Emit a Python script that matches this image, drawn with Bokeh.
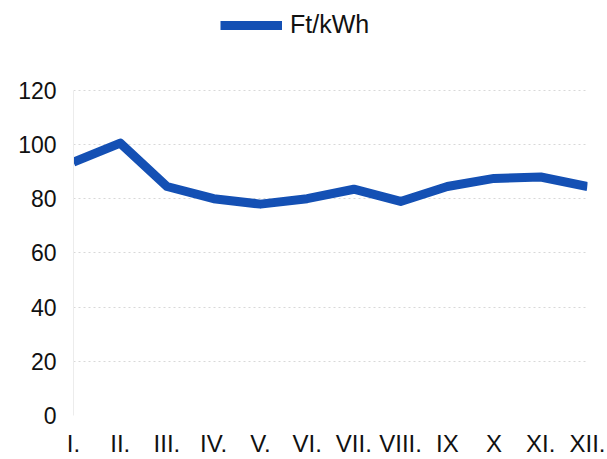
from bokeh.plotting import figure
from bokeh.models import Range1d, FixedTicker, Legend, LegendItem, ColumnDataSource
from bokeh.embed import file_html
from bokeh.resources import INLINE

# Monthly electricity price
months = ["I.", "II.", "III.", "IV.", "V.", "VI.", "VII.", "VIII.", "IX", "X", "XI.", "XII."]
price_ft_kwh = [93.5, 100.5, 84.5, 80, 78, 80, 83.5, 79, 84.5, 87.5, 88, 84.5]
y_ticks = [0, 20, 40, 60, 80, 100, 120]
series_name = "Ft/kWh"

LINE_COLOR = "#1450b4"
FONT = "Liberation Sans"

src = ColumnDataSource(dict(x=list(range(len(months))), y=price_ft_kwh))

# Extra headroom above 120 holds the legend inside the frame
p = figure(width=607, height=459, output_backend="svg", toolbar_location=None,
           x_range=Range1d(0, len(months) - 1), y_range=Range1d(0, 151.3),
           min_border_left=73, min_border_right=20, min_border_top=5, min_border_bottom=43)
p.outline_line_color = None
p.background_fill_color = "white"
p.border_fill_color = "white"

line = p.line("x", "y", source=src, line_color=LINE_COLOR, line_width=9,
              line_join="round", line_cap="butt")

# Axes
p.yaxis.ticker = FixedTicker(ticks=y_ticks)
p.yaxis.bounds = (0, 120)
p.xaxis.ticker = FixedTicker(ticks=list(range(len(months))))
p.xaxis.major_label_overrides = {i: m for i, m in enumerate(months)}
for ax in (p.xaxis, p.yaxis):
    ax.major_tick_line_color = None
    ax.minor_tick_line_color = None
    ax.major_tick_out = 0
    ax.major_tick_in = 0
    ax.minor_tick_out = 0
    ax.major_label_text_font = FONT
    ax.major_label_text_color = "#111111"
p.yaxis.major_label_text_font_size = "23px"
p.xaxis.major_label_text_font_size = "24px"
p.xaxis.axis_line_color = None
p.yaxis.axis_line_color = "#ececec"
p.yaxis.major_label_standoff = 17
p.xaxis.major_label_standoff = 14

# Grid
p.xgrid.grid_line_color = None
p.ygrid.grid_line_color = "#d8d8d8"
p.ygrid.grid_line_dash = "2 3"
p.ygrid.grid_line_width = 1

# Legend at the top
legend = Legend(items=[LegendItem(label=series_name, renderers=[line])],
                location=(147, 376), orientation="horizontal",
                label_text_font=FONT, label_text_font_size="25px",
                label_text_color="#111111", glyph_width=62, glyph_height=20,
                border_line_color=None, background_fill_alpha=0,
                padding=0, margin=0, label_standoff=8)
p.add_layout(legend, "center")

open("out.html", "w").write(file_html(p, INLINE))
